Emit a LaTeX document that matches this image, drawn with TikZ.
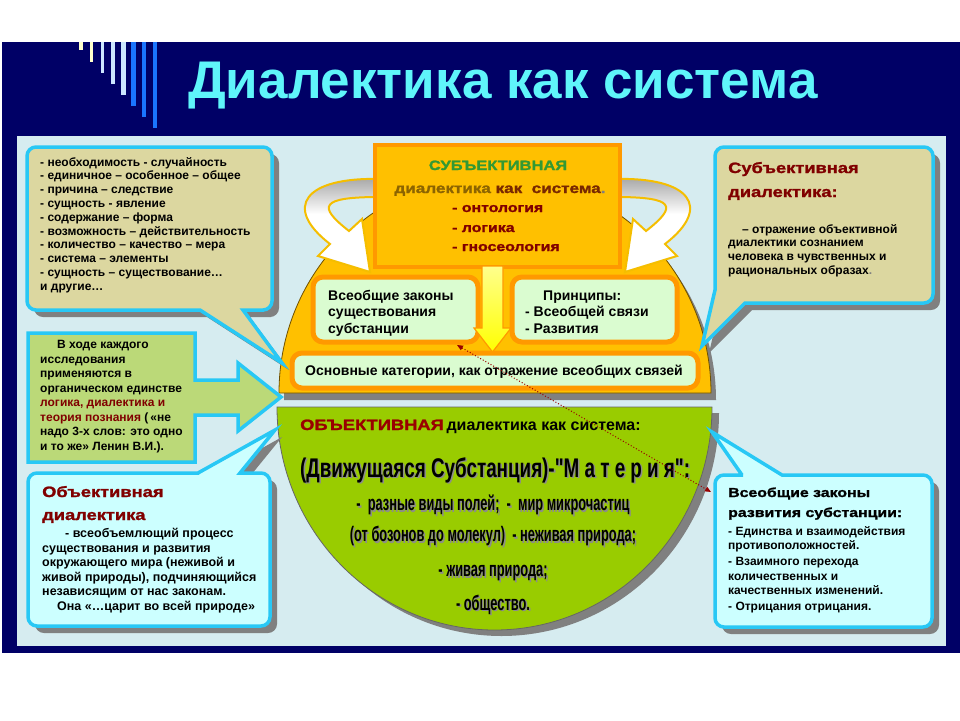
\documentclass[tikz,border=0pt]{standalone}
\usepackage{fontspec}
\usepackage{graphicx}
\setmainfont{Liberation Sans}
\newfontfamily\hvy{Liberation Sans Bold}[FakeStretch=1.22,FakeBold=1.5]
\newfontfamily\qsans{Liberation Sans}[Ligatures=TeXOff]
\usetikzlibrary{arrows.meta}
\definecolor{cNavy}{RGB}{0,0,102}
\definecolor{cPanel}{RGB}{214,236,240}
\definecolor{cTtl}{RGB}{95,245,250}
\definecolor{cCream}{RGB}{255,255,204}
\definecolor{cLBlue}{RGB}{204,230,255}
\definecolor{cMBlue}{RGB}{26,117,255}
\definecolor{cTan}{RGB}{220,215,160}
\definecolor{cCyb}{RGB}{40,200,245}
\definecolor{cLCyan}{RGB}{204,255,255}
\definecolor{cGArrow}{RGB}{187,217,120}
\definecolor{cGold}{RGB}{255,192,0}
\definecolor{cOrng}{RGB}{255,153,0}
\definecolor{cMint}{RGB}{218,252,208}
\definecolor{cLGreen}{RGB}{153,204,0}
\definecolor{cDrd}{RGB}{128,0,0}
\definecolor{cRd}{RGB}{153,0,0}
\definecolor{cGrn}{RGB}{51,153,51}
\definecolor{cBrn}{RGB}{140,100,0}
\definecolor{cDbr}{RGB}{120,40,0}
\definecolor{cShd}{RGB}{128,128,128}
\definecolor{cAEdge}{RGB}{245,190,0}
\newcommand{\gtline}[3]{%
  \node[cond, text=black!45] (#1s) at (494.5,#2+1.5) {\scalebox{0.61}[1]{\fontsize{21}{21}\selectfont\bfseries #3}};
  \node[cond] (#1) at (493,#2) {\scalebox{0.61}[1]{\fontsize{21}{21}\selectfont\bfseries #3}};}
\newcommand{\mattext}{\qsans\bfseries (Движущаяся Субстанция)-"М а т е р и я":}
\begin{document}
\begin{tikzpicture}[x=1pt,y=-1pt,
  tx/.style={inner sep=0pt, anchor=base west, font=\fontsize{12}{13}\selectfont\bfseries},
  txb/.style={inner sep=0pt, anchor=base west, font=\fontsize{12.5}{14}\selectfont\bfseries},
  txr/.style={inner sep=0pt, anchor=base west, font=\fontsize{12}{14}\selectfont\bfseries},
  txm/.style={inner sep=0pt, anchor=base west, font=\fontsize{14}{16}\selectfont\bfseries},
  hd/.style={inner sep=0pt, anchor=base west, font=\hvy\fontsize{15}{15}\selectfont},
  callout/.style={draw=cCyb, line width=3.5pt},
  mintbox/.style={fill=cMint, draw=cOrng, line width=5pt, rounded corners=10pt},
  cond/.style={inner sep=0pt, anchor=base},
  ttl/.style={inner sep=0pt, anchor=base west, font=\fontsize{53}{53}\selectfont\bfseries}
]
\useasboundingbox (0,0) rectangle (960,720);
\fill[white] (0,0) rectangle (960,720);
\fill[cNavy] (2,42) rectangle (960,653);
% decorative bars
\fill[cCream] (79,42) rectangle (83,50);
\fill[cCream] (90,42) rectangle (93,62);
\fill[cLBlue] (101,42) rectangle (104,73);
\fill[cLBlue] (111,42) rectangle (115,84);
\fill[cLBlue] (121,42) rectangle (126,95);
\fill[cMBlue] (131,42) rectangle (136,106);
\fill[cMBlue] (142,42) rectangle (146,117);
\fill[cMBlue] (153,42) rectangle (157,128);
% title
\node[ttl, text=cTtl] (title) at (188,98) {Диалектика как система};
% panel
\fill[cPanel] (17,136) rectangle (946,646);
% domes
\fill[cShd] (284,400) arc[start angle=180,end angle=0,x radius=216pt,y radius=218pt] -- cycle;
\filldraw[fill=cGold, draw={rgb,255:red,110;green,80;blue,0}, line width=0.8pt] (279,393) arc[start angle=180,end angle=0,x radius=216pt,y radius=218pt] -- cycle;
\fill[cShd] (284,413) arc[start angle=180,end angle=360,x radius=217.5pt,y radius=223pt] -- cycle;
\filldraw[fill=cLGreen, draw=black!60, line width=0.8pt] (277,407) arc[start angle=180,end angle=360,x radius=217.5pt,y radius=223pt] -- cycle;
% curved arrows
\def\pLA{(380,179) .. controls (305,177) and (282,207) .. (330,244) -- (318,256) -- (370,272) -- (362,219) -- (349,231) .. controls (317,206) and (320,197) .. (380,197) -- cycle}
\def\pRA{(615,179) .. controls (690,177) and (713,207) .. (665,244) -- (677,256) -- (625,272) -- (633,219) -- (646,231) .. controls (678,206) and (675,197) .. (615,197) -- cycle}
\fill[white] \pLA;
\fill[white] \pRA;
\begin{scope}
\clip \pLA;
\shade[top color=black!35, bottom color=white] (290,177) rectangle (390,214);
\end{scope}
\begin{scope}
\clip \pRA;
\shade[top color=black!35, bottom color=white] (605,177) rectangle (715,214);
\end{scope}
\draw[cAEdge, line width=2pt] \pLA;
\draw[cAEdge, line width=2pt] \pRA;
% top box
\filldraw[fill=cGold, draw=cOrng, line width=4pt] (375,145) rectangle (620,267);
\node[inner sep=0pt, anchor=base, text=cGrn, font=\hvy\fontsize{13.5}{13.5}\selectfont] (subj) at (498,170) {СУБЪЕКТИВНАЯ};
\node[inner sep=0pt, anchor=base, font=\hvy\fontsize{14}{14}\selectfont] (subj2) at (500,193) {\textcolor{cBrn}{диалектика} \textcolor{cDbr}{как\ \ система}\textcolor{gray}{.}};
\node[inner sep=0pt, anchor=base west, text=cDrd, font=\hvy\fontsize{13}{13}\selectfont] (ont) at (452,212) {- онтология};
\node[inner sep=0pt, anchor=base west, text=cDrd, font=\hvy\fontsize{13}{13}\selectfont] (log) at (452,232) {- логика};
\node[inner sep=0pt, anchor=base west, text=cDrd, font=\hvy\fontsize{13}{13}\selectfont] (gno) at (452,251) {- гносеология};
% mint boxes
\path[mintbox] (313,277) rectangle (478,342);
\path[mintbox] (512,277) rectangle (677,342);
\path[mintbox] (292,353) rectangle (698,388);
\node[txm] (m1a) at (328,300) {Всеобщие законы};
\node[txm] (m1b) at (328,316.7) {существования};
\node[txm] (m1c) at (328,333.4) {субстанции};
\node[txm] (m2a) at (543,300) {Принципы:};
\node[txm] (m2b) at (525,316.7) {- Всеобщей связи};
\node[txm] (m2c) at (525,333.4) {- Развития};
\node[txm] (m3) at (305,375) {Основные категории, как отражение всеобщих связей};
% down arrow
\path[draw=cOrng, line width=1.2pt, top color=white!55!yellow, bottom color=yellow] (482,266) -- (503,266) -- (503,328) -- (511,328) -- (492.5,352) -- (474,328) -- (482,328) -- cycle;
% green semicircle text
\node[inner sep=0pt, anchor=base west] (obj1) at (300,430) {{\hvy\fontsize{15}{15}\selectfont\color{cRd}ОБЪЕКТИВНАЯ} {\fontsize{16}{16}\selectfont\bfseries диалектика как система:}};
\node[inner sep=0pt, anchor=base west, text=black!45] (g2s) at (301.5,478.5) {\resizebox{390pt}{\height}{\fontsize{27}{27}\selectfont\mattext}};
\node[inner sep=0pt, anchor=base west] (g2) at (300,477) {\resizebox{390pt}{\height}{\fontsize{27}{27}\selectfont\mattext}};
\gtline{g3}{510.7}{-\ \ разные виды полей;\ \ -\ \ мир микрочастиц}
\gtline{g4}{541.7}{(от бозонов до молекул)\ \ - неживая природа;}
\gtline{g5}{576.7}{- живая природа;}
\gtline{g6}{610}{- общество.}
% callouts
\def\pTL{(27,228) [rounded corners=9pt] -- (27,147) -- (272,147) -- (272,310) -- (255,310) [sharp corners] -- (243,310) -- (282,363) -- (200,310) -- (190,310) [rounded corners=9pt] -- (27,310) -- cycle}
\def\pTR{(824,147) [rounded corners=9pt] -- (933,147) -- (933,303) -- (757,303) [sharp corners] -- (745,303) -- (702,346) -- (715,290) -- (715,280) [rounded corners=9pt] -- (715,147) -- cycle}
\def\pBL{(28,550) [rounded corners=9pt] -- (28,473) -- (190,473) [sharp corners] -- (198,473) -- (275,430) -- (240,473) -- (250,473) [rounded corners=9pt] -- (270,473) -- (270,626) -- (28,626) -- cycle}
\def\pBR{(824,627) [rounded corners=9pt] -- (715,627) -- (715,475) -- (734,475) [sharp corners] -- (742,475) -- (712,432) -- (782,475) -- (792,475) [rounded corners=9pt] -- (932,475) -- (932,627) -- cycle}
\def\pGA{(28,398) -- (28,333) -- (195,333) -- (195,380) -- (238,380) -- (238,363) -- (281,397) -- (238,431) -- (238,415) -- (195,415) -- (195,462) -- (28,462) -- cycle}
\fill[cShd, shift={(7,7)}] \pTL;
\fill[cShd, shift={(7,7)}] \pTR;
\fill[cShd, shift={(7,7)}] \pBL;
\fill[cShd, shift={(7,7)}] \pBR;
\path[callout, fill=cTan] \pTL;
\path[callout, fill=cTan] \pTR;
\path[callout, fill=cLCyan] \pBL;
\path[callout, fill=cLCyan] \pBR;
\path[callout, fill=cGArrow] \pGA;
% top-left text
\foreach \lin [count=\i from 0] in {{- необходимость - случайность},{- единичное – особенное – общее},{- причина – следствие},{- сущность - явление},{- содержание – форма},{- возможность – действительность},{- количество – качество – мера},{- система – элементы},{- сущность – существование…},{и другие…}}
  \node[tx] (tl\i) at (40,{166+13.8*\i}) {\lin};
% middle-left text
\node[tx] (ml0) at (57,348.5) {В ходе каждого};
\node[tx] (ml1) at (40,363) {исследования};
\node[tx] (ml2) at (40,377.5) {применяются в};
\node[tx] (ml3) at (40,392) {органическом единстве};
\node[tx, text=cDrd] (ml4) at (40,406.5) {логика, диалектика и};
\node[tx] (ml5) at (40,421) {\textcolor{cDrd}{теория познания} (\,«не};
\node[tx] (ml6) at (40,435.5) {надо 3-х слов: это одно};
\node[tx] (ml7) at (40,450) {и то же» Ленин В.И.).};
% top-right text
\node[hd, text=cDrd] (tr1) at (728,173) {Субъективная};
\node[hd, text=cDrd] (tr2) at (728,197) {диалектика:};
\node[txr] (tr3) at (742,233) {– отражение объективной};
\node[txr] (tr4) at (728,246.8) {диалектики сознанием};
\node[txr] (tr5) at (728,260.6) {человека в чувственных и};
\node[txr] (tr6) at (728,274.4) {рациональных образах\textcolor{gray}{.}};
% bottom-left text
\node[hd, text=cDrd] (bl1) at (42,497) {Объективная};
\node[hd, text=cDrd] (bl2) at (42,520) {диалектика};
\node[txb] (bl3) at (65,537.5) {- всеобъемлющий процесс};
\node[txb] (bl4) at (42,552) {существования и развития};
\node[txb] (bl5) at (42,566.5) {окружающего мира (неживой и};
\node[txb] (bl6) at (42,581) {живой природы), подчиняющийся};
\node[txb] (bl7) at (42,595.5) {независящим от нас законам.};
\node[txb] (bl8) at (57,610) {Она «…царит во всей природе»};
% bottom-right text
\node[hd, font=\hvy\fontsize{13}{13}\selectfont] (br1) at (728,497) {Всеобщие законы};
\node[hd, font=\hvy\fontsize{13}{13}\selectfont] (br2) at (728,517) {развития субстанции:};
\node[txr] (br3) at (728,535) {- Единства и взаимодействия};
\node[txr] (br4) at (728,549) {противоположностей.};
\node[txr] (br5) at (728,565) {- Взаимного перехода};
\node[txr] (br6) at (728,580) {количественных и};
\node[txr] (br7) at (728,594) {качественных изменений.};
\node[txr] (br8) at (728,610) {- Отрицания отрицания.};
% dotted double arrow
\coordinate (da1) at (457,345);
\coordinate (da2) at (711,492);
\draw[cRd, dotted, line width=1pt, {Triangle[length=6pt,width=5pt]}-{Triangle[length=6pt,width=5pt]}] (da1) -- (da2);
\end{tikzpicture}
\end{document}
